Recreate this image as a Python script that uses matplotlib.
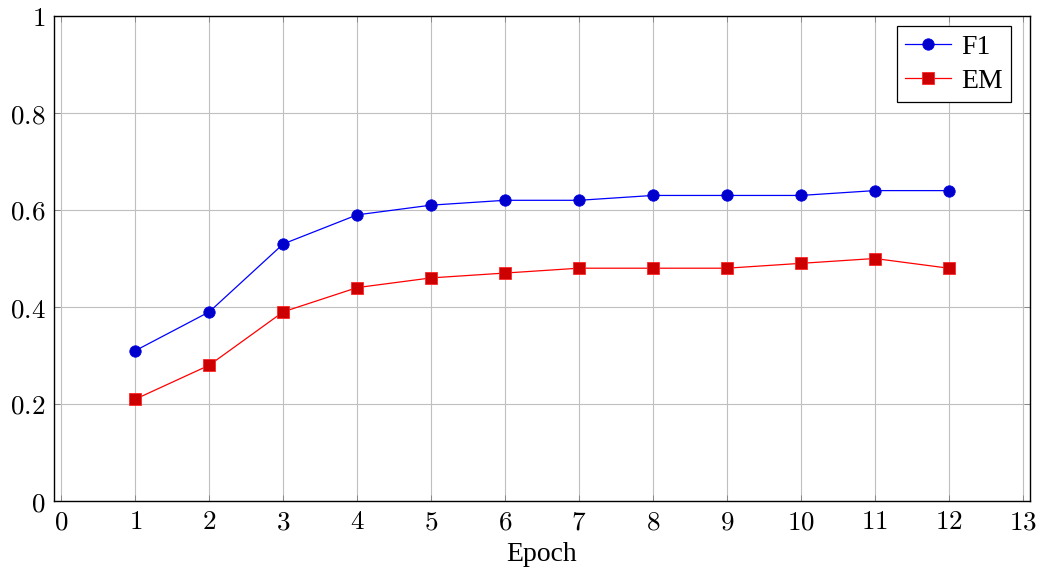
import matplotlib
matplotlib.use("Agg")
import matplotlib.pyplot as plt
from matplotlib.ticker import FuncFormatter

epochs = [1, 2, 3, 4, 5, 6, 7, 8, 9, 10, 11, 12]
f1 = [0.31, 0.39, 0.53, 0.59, 0.61, 0.62, 0.62, 0.63, 0.63, 0.63, 0.64, 0.64]
em = [0.21, 0.28, 0.39, 0.44, 0.46, 0.47, 0.48, 0.48, 0.48, 0.49, 0.50, 0.48]
xticks = list(range(0, 14))
yticks = [0, 0.2, 0.4, 0.6, 0.8, 1]

plt.rcParams['mathtext.fontset'] = 'cm'
SERIF = 'Liberation Serif'

W, H = 1039, 571
fig = plt.figure(figsize=(W / 100, H / 100), dpi=100)
ax = fig.add_axes([54/W, 1-501/H, (1030-54)/W, (501-16)/H])

ax.plot(epochs, f1, color=(0, 0, 1), lw=0.9, marker='o', markersize=8.2,
        markerfacecolor=(0, 0, 0.8), markeredgecolor=(0, 0, 0.9), markeredgewidth=0.6,
        label='F1', zorder=3)
ax.plot(epochs, em, color=(1, 0, 0), lw=0.9, marker='s', markersize=8.2,
        markerfacecolor=(0.8, 0, 0), markeredgecolor=(1, 0.15, 0.15), markeredgewidth=0.6,
        label='EM', zorder=3)

ax.set_xlim(-0.1, 13.1)
ax.set_ylim(0, 1)
ax.set_xticks(xticks)
ax.set_yticks(yticks)

def fmt(v, pos):
    return '$' + ('%g' % v) + '$'

ax.xaxis.set_major_formatter(FuncFormatter(fmt))
ax.yaxis.set_major_formatter(FuncFormatter(fmt))
ax.tick_params(direction='in', length=4, width=0.6, color='#808080',
               top=True, right=True, labelsize=19.5, pad=6)
ax.grid(True, color='#bfbfbf', lw=0.8)
ax.set_axisbelow(True)
for sp in ax.spines.values():
    sp.set_linewidth(1.0)
    sp.set_color('black')

ax.set_xlabel('Epoch', fontsize=20, family=SERIF, labelpad=5)

leg = ax.legend(loc='upper right', bbox_to_anchor=(1011/W, 1-26/H),
                bbox_transform=fig.transFigure, borderaxespad=0,
                prop={'family': SERIF, 'size': 20}, fancybox=False,
                framealpha=1, edgecolor='black', handlelength=1.65,
                handletextpad=0.35, borderpad=0.3, labelspacing=0.3)
leg.get_frame().set_linewidth(0.9)

fig.savefig('out.png', dpi=100)
